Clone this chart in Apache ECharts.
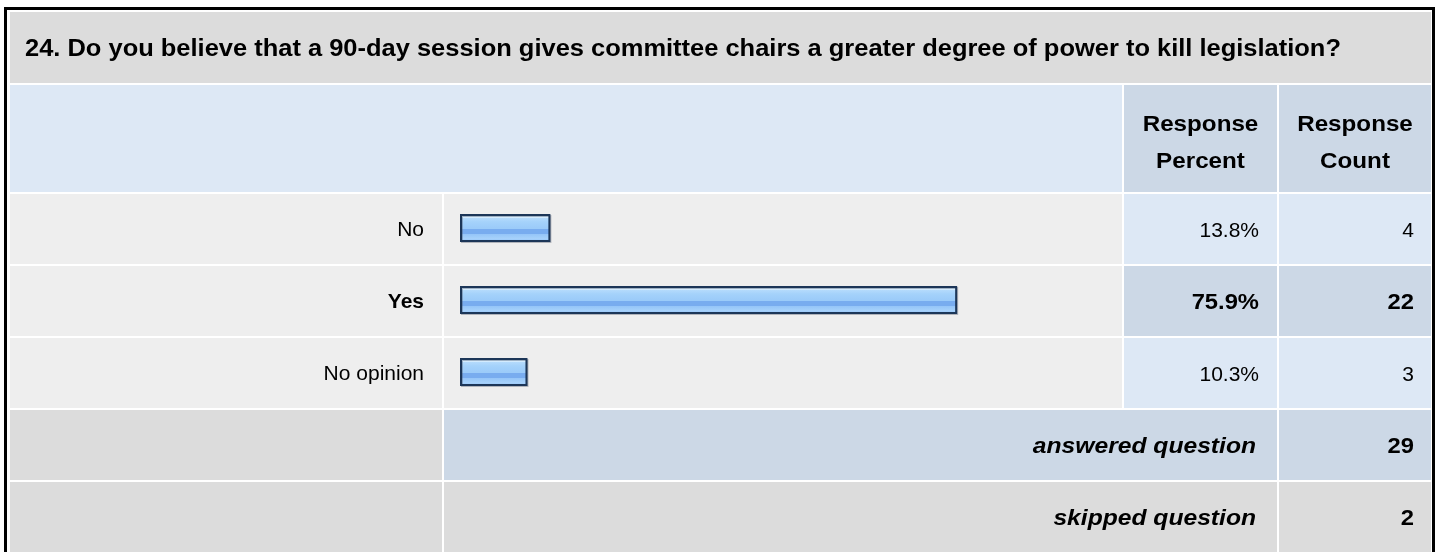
<!DOCTYPE html>
<html>
<head>
<meta charset="utf-8">
<script src="https://cdn.jsdelivr.net/npm/echarts@6/dist/echarts.min.js"></script>
<style>
  html, body { margin: 0; padding: 0; background: #ffffff; }
  #chart { width: 1437px; height: 552px; }
</style>
</head>
<body>
<div id="chart"></div>
<script>
// Survey question and its answers
const questionTitle = '24. Do you believe that a 90-day session gives committee chairs a greater degree of power to kill legislation?';
const categories = ['No', 'Yes', 'No opinion'];
const percents = [13.8, 75.9, 10.3];
const counts = [4, 22, 3];
const percentHeader = ['Response', 'Percent'];
const countHeader = ['Response', 'Count'];
const summaryLabels = ['answered question', 'skipped question'];
const summaryValues = [29, 2];

const FONT = '"Liberation Sans", Arial, Helvetica, sans-serif';
const topIndex = counts.indexOf(Math.max.apply(null, counts));

// Table layout (pixels)
const X0 = 10, X_LABEL_END = 442, X_BAR = 444, X_BAR_END = 1122;
const X_PCT = 1124, X_PCT_END = 1277, X_CNT = 1279, X_CNT_END = 1431;
const ROW_TOP = 194, ROW_STEP = 72, ROW_H = 70;

const C_GRAY = '#dcdcdc', C_ROW = '#eeeeee', C_LIGHT = '#dde8f5', C_MID = '#ccd8e6';

function cell(x0, x1, y0, y1, fill) {
  return { type: 'rect', z: 0, silent: true,
    shape: { x: x0, y: y0, width: x1 - x0, height: y1 - y0 },
    style: { fill: fill } };
}

function txt(text, x, y, o) {
  o = o || {};
  return { type: 'group', x: x, y: y, scaleX: o.sx || 1, z: 20, silent: true,
    children: [{ type: 'text', z: 20, style: {
      text: String(text), x: 0, y: 0, fill: '#000000',
      align: o.align || 'left', verticalAlign: 'middle',
      fontFamily: FONT, fontSize: o.size || 21,
      fontWeight: o.bold ? 'bold' : 'normal',
      fontStyle: o.italic ? 'italic' : 'normal' } }] };
}

const elements = [];
// outer frame
elements.push({ type: 'rect', z: -1, silent: true,
  shape: { x: 5.5, y: 8.5, width: 1428, height: 600 },
  style: { fill: '#ffffff', stroke: '#000000', lineWidth: 3 } });

// title band
elements.push(cell(X0, X_CNT_END, 12, 83, C_GRAY));
elements.push(txt(questionTitle, 25, 50, { bold: true, size: 23, sx: 1.107 }));

// header row
elements.push(cell(X0, X_BAR_END, 85, 192, C_LIGHT));
elements.push(cell(X_PCT, X_PCT_END, 85, 192, C_MID));
elements.push(cell(X_CNT, X_CNT_END, 85, 192, C_MID));
const pctMid = (X_PCT + X_PCT_END) / 2, cntMid = (X_CNT + X_CNT_END) / 2;
percentHeader.forEach(function (s, i) {
  elements.push(txt(s, pctMid, 124.5 + i * 37, { bold: true, size: 22, align: 'center', sx: 1.1 }));
});
countHeader.forEach(function (s, i) {
  elements.push(txt(s, cntMid, 124.5 + i * 37, { bold: true, size: 22, align: 'center', sx: 1.1 }));
});

// answer rows
categories.forEach(function (c, i) {
  const y0 = ROW_TOP + i * ROW_STEP, y1 = y0 + ROW_H, cy = y0 + 37;
  const strong = i === topIndex;
  elements.push(cell(X0, X_LABEL_END, y0, y1, C_ROW));
  elements.push(cell(X_BAR, X_BAR_END, y0, y1, C_ROW));
  elements.push(cell(X_PCT, X_PCT_END, y0, y1, strong ? C_MID : C_LIGHT));
  elements.push(cell(X_CNT, X_CNT_END, y0, y1, strong ? C_MID : C_LIGHT));
  elements.push(txt(percents[i].toFixed(1) + '%', 1259, cy,
    { align: 'right', bold: strong, size: strong ? 22 : 21, sx: strong ? 1.08 : 1 }));
  elements.push(txt(counts[i], 1414, cy,
    { align: 'right', bold: strong, size: strong ? 22 : 21, sx: strong ? 1.08 : 1 }));
});

// summary rows
summaryLabels.forEach(function (s, k) {
  const y0 = ROW_TOP + (categories.length + k) * ROW_STEP;
  const y1 = k === summaryLabels.length - 1 ? 560 : y0 + ROW_H;
  const cy = y0 + 37;
  const fill = k === 0 ? C_MID : C_GRAY;
  elements.push(cell(X0, X_LABEL_END, y0, y1, C_GRAY));
  elements.push(cell(X_BAR, X_PCT_END, y0, y1, fill));
  elements.push(cell(X_CNT, X_CNT_END, y0, y1, fill));
  elements.push(txt(s, 1256, cy, { align: 'right', bold: true, italic: true, size: 22, sx: 1.12 }));
  elements.push(txt(summaryValues[k], 1414, cy, { align: 'right', bold: true, size: 22, sx: 1.08 }));
});

// striped glossy fill for the bars
const barFill = new echarts.graphic.LinearGradient(0, 0, 0, 1, [
  { offset: 0.00, color: '#d3ebfe' },
  { offset: 0.14, color: '#d3ebfe' },
  { offset: 0.14, color: '#b5dbfc' },
  { offset: 0.28, color: '#a5d2fb' },
  { offset: 0.50, color: '#9bcbf9' },
  { offset: 0.55, color: '#9bcbf9' },
  { offset: 0.55, color: '#78acef' },
  { offset: 0.72, color: '#78acef' },
  { offset: 0.72, color: '#95c5f8' },
  { offset: 0.88, color: '#a6d1fb' },
  { offset: 1.00, color: '#8fbff6' }
]);

const chart = echarts.init(document.getElementById('chart'), null, { renderer: 'canvas' });
chart.setOption({
  animation: false,
  backgroundColor: '#ffffff',
  graphic: elements,
  grid: { left: 460, top: 192, width: 655, height: categories.length * ROW_STEP, containLabel: false },
  xAxis: { type: 'value', min: 0, max: 100, show: false },
  yAxis: {
    type: 'category', data: categories, inverse: true,
    axisLine: { show: false }, axisTick: { show: false }, splitLine: { show: false },
    axisLabel: {
      margin: 36, fontSize: 21, fontFamily: FONT, color: '#000000',
      padding: [5, 0, 0, 0],
      formatter: function (v, i) { return i === topIndex ? '{b|' + v + '}' : v; },
      rich: { b: { fontWeight: 'bold', fontSize: 21, fontFamily: FONT, color: '#000000' } }
    }
  },
  series: [{
    type: 'bar', data: percents, barWidth: 28, z: 5,
    itemStyle: {
      color: barFill, borderColor: '#1c3658', borderWidth: 2,
      shadowColor: 'rgba(60,70,90,0.35)', shadowOffsetX: 1, shadowOffsetY: 1, shadowBlur: 0
    },
    emphasis: { disabled: true }
  }]
});
</script>
</body>
</html>
